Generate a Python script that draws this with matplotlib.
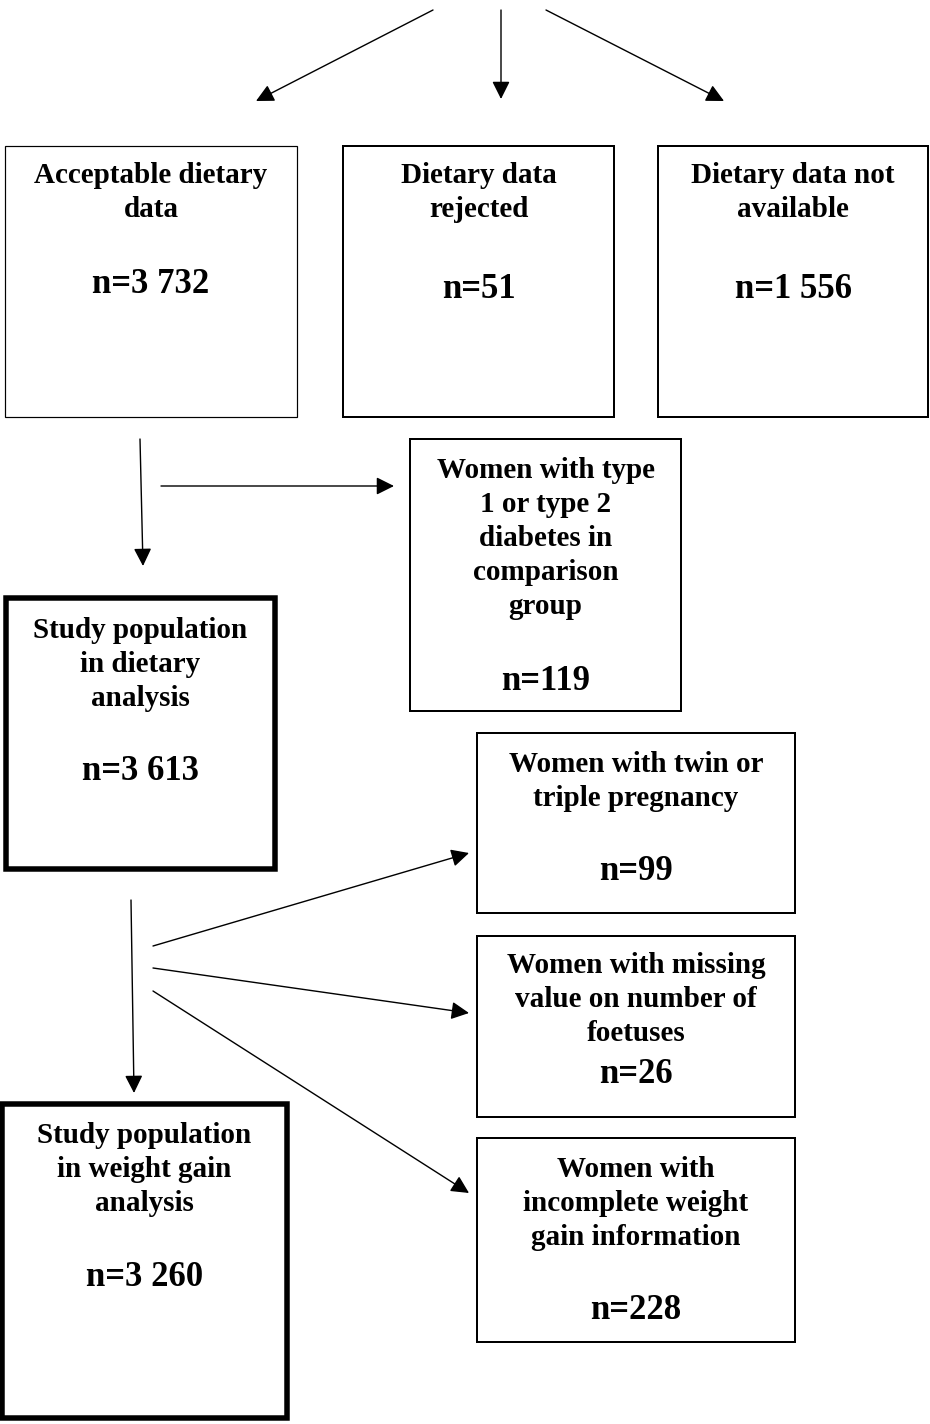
import matplotlib.pyplot as plt
from matplotlib.patches import Rectangle

# box texts and counts (top row, then left column, then right column)
labels = [
    "Acceptable dietary\ndata",
    "Dietary data\nrejected",
    "Dietary data not\navailable",
    "Women with type\n1 or type 2\ndiabetes in\ncomparison\ngroup",
    "Study population\nin dietary\nanalysis",
    "Women with twin or\ntriple pregnancy",
    "Women with missing\nvalue on number of\nfoetuses",
    "Women with\nincomplete weight\ngain information",
    "Study population\nin weight gain\nanalysis",
]
counts = [3732, 51, 1556, 119, 3613, 99, 26, 228, 3260]

# layout in pixels: x0, y0, x1, y1, border px, first label baseline, count baseline
boxes = [
    (5, 146, 297, 417, 1.2, 183, 293),
    (343, 146, 614, 417, 2, 183, 298),
    (658, 146, 928, 417, 2, 183, 298),
    (410, 439, 681, 711, 2, 478, 690),
    (6, 598, 275, 869, 5.5, 638, 780),
    (477, 733, 795, 913, 2, 772, 880),
    (477, 936, 795, 1117, 2, 973, 1083),
    (477, 1138, 795, 1342, 2, 1177, 1319),
    (2, 1104, 287, 1418, 5.5, 1143, 1286),
]

# arrows: (start, tip) in pixels
arrows = [
    ((433, 10), (256, 101)),
    ((501, 10), (501, 99)),
    ((546, 10), (724, 101)),
    ((140, 439), (143, 566)),
    ((161, 486), (394, 486)),
    ((131, 900), (134, 1093)),
    ((153, 946), (469, 853)),
    ((153, 968), (469, 1013)),
    ((153, 991), (469, 1193)),
]

px = 0.72  # pixel -> point at dpi 100
line_step = 34

fig = plt.figure(figsize=(9.3, 14.24), dpi=100)
ax = fig.add_axes([0, 0, 1, 1])
ax.set_xlim(0, 930)
ax.set_ylim(1424, 0)
ax.axis('off')

font = dict(family='Liberation Serif', weight='bold', color='black')

for (x0, y0, x1, y1, lw, yb, yn), lab, n in zip(boxes, labels, counts):
    ax.add_patch(Rectangle((x0, y0), x1 - x0, y1 - y0, fill=False,
                           edgecolor='black', lw=lw * px, joinstyle='miter'))
    xc = (x0 + x1) / 2
    for i, line in enumerate(lab.split("\n")):
        ax.text(xc, yb + i * line_step, line, ha='center', va='baseline',
                fontsize=21, **font)
    ax.text(xc, yn, "n=" + f"{n:,}".replace(",", " "), ha='center',
            va='baseline', fontsize=25, **font)

for start, tip in arrows:
    ax.annotate('', xy=tip, xytext=start,
                arrowprops=dict(arrowstyle='-|>', color='black', lw=1.4 * px,
                                mutation_scale=27, shrinkA=0, shrinkB=0))

plt.savefig('out.png', dpi=100)
